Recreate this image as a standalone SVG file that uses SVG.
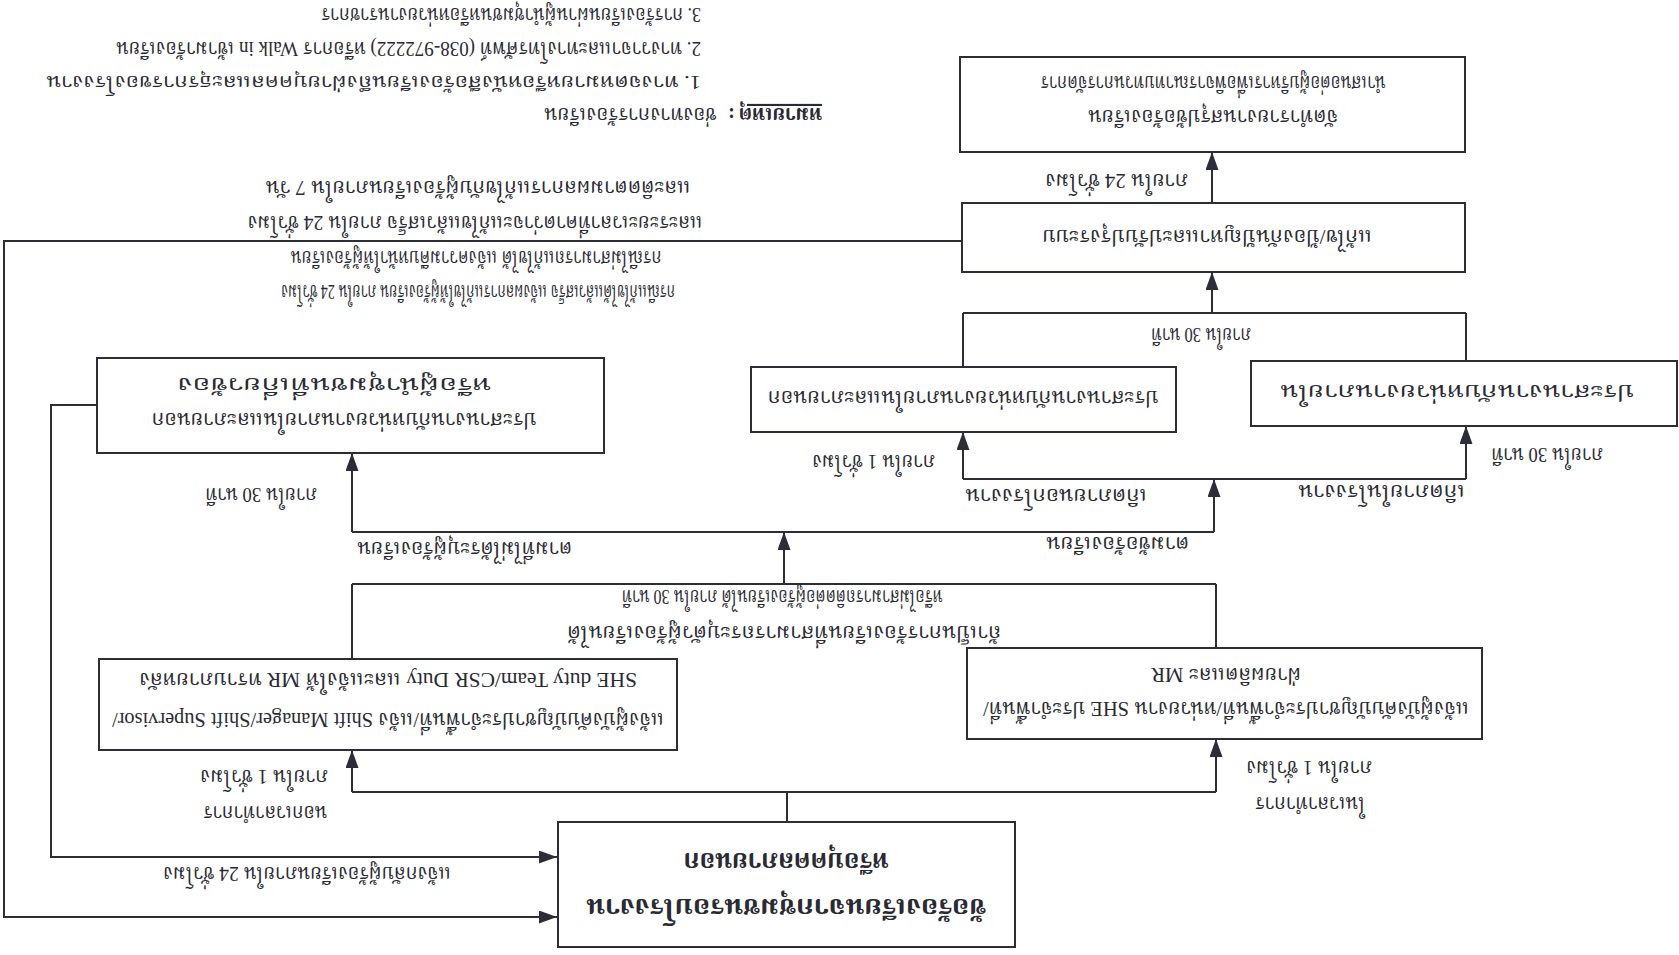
<svg xmlns="http://www.w3.org/2000/svg" width="1679" height="955" viewBox="0 0 1679 955">
<style>
.bx{fill:#fff;stroke:#2d2d38;stroke-width:2}
.ln{fill:none;stroke:#2d2d38;stroke-width:2}
.ar{fill:none;stroke:#2d2d38;stroke-width:2;marker-end:url(#ah)}
text{font-family:'Liberation Serif','Noto Serif Thai','Noto Sans Thai Looped','Noto Sans Thai','Noto Sans',serif;font-size:21px;fill:#2a2a33}
.c{text-anchor:middle}
.e{text-anchor:end}
.big{font-size:27px;font-weight:bold}
.b{font-weight:bold}
.sm{font-size:19px}
</style>
<defs>
<marker id="ah" viewBox="0 0 18 13" refX="18" refY="6.5" markerWidth="18" markerHeight="13" markerUnits="userSpaceOnUse" orient="auto"><path d="M0,0 L18,6.5 L0,13 z" fill="#2d2d38"/></marker>
</defs>
<rect width="1679" height="955" fill="#fff"/>
<g transform="rotate(180 839.5 477.5)">
<g id="connectors">
<path class="ln" d="M892,133 V163 M463,163 H1327"/>
<path class="ar" d="M463,163 V216"/>
<path class="ar" d="M1327,163 V205"/>
<path class="ln" d="M1327,296 V371 M463,307 V371 M463,371 H1327"/>
<path class="ar" d="M895,371 V423"/>
<path class="ln" d="M465,423 H1327"/>
<path class="ar" d="M1327,423 V502"/>
<path class="ar" d="M465,423 V476"/>
<path class="ln" d="M213,476 H716"/>
<path class="ar" d="M716,476 V523"/>
<path class="ar" d="M213,476 V529"/>
<path class="ln" d="M716,588 V642 M213,594 V642 M213,642 H716"/>
<path class="ar" d="M467,642 V683"/>
<path class="ar" d="M467,752 V803"/>
<path class="ar" d="M717,714 H1675 V38 H1122"/>
<path class="ar" d="M1582,550 H1628 V98 H1122"/>
</g>
<g id="labels">
<text class="c" x="369" y="158" textLength="110" lengthAdjust="spacingAndGlyphs">ในเวลาทำการ</text>
<text class="c" x="370" y="194" textLength="126" lengthAdjust="spacingAndGlyphs">ภายใน 1 ชั่วโมง</text>
<text class="c" x="1414" y="149" textLength="124" lengthAdjust="spacingAndGlyphs">นอกเวลาทำการ</text>
<text class="c" x="1415" y="185" textLength="128" lengthAdjust="spacingAndGlyphs">ภายใน 1 ชั่วโมง</text>
<text class="c" x="895" y="329" textLength="434" lengthAdjust="spacingAndGlyphs">ถ้าเป็นการร้องเรียนที่สามารถระบุตัวผู้ร้องเรียนได้</text>
<text class="c" x="897" y="365" textLength="321" lengthAdjust="spacingAndGlyphs">หรือไม่สามารถติดต่อผู้ร้องเรียนได้ ภายใน 30 นาที</text>
<text x="490" y="418" textLength="143" lengthAdjust="spacingAndGlyphs">ตามข้อร้องเรียน</text>
<text class="e" x="1322" y="413" textLength="215" lengthAdjust="spacingAndGlyphs">ตามที่ไม่ได้ระบุผู้ร้องเรียน</text>
<text x="1362" y="467" textLength="112" lengthAdjust="spacingAndGlyphs">ภายใน 30 นาที</text>
<text class="e" x="714" y="466" textLength="182" lengthAdjust="spacingAndGlyphs">เกิดภายนอกโรงงาน</text>
<text x="214" y="470" textLength="167" lengthAdjust="spacingAndGlyphs">เกิดภายในโรงงาน</text>
<text x="744" y="500" textLength="123" lengthAdjust="spacingAndGlyphs">ภายใน 1 ชั่วโมง</text>
<text class="e" x="188" y="507" textLength="112" lengthAdjust="spacingAndGlyphs">ภายใน 30 นาที</text>
<text class="c" x="478" y="627" textLength="100" lengthAdjust="spacingAndGlyphs">ภายใน 30 นาที</text>
<text x="491" y="781" textLength="143" lengthAdjust="spacingAndGlyphs">ภายใน 24 ชั่วโมง</text>
<text class="c" x="1201" y="670" textLength="394" lengthAdjust="spacingAndGlyphs">กรณีแก้ไขได้แล้วเสร็จ แจ้งผลการแก้ไขให้ผู้ร้องเรียน ภายใน 24 ชั่วโมง</text>
<text class="c" x="1203" y="704" textLength="371" lengthAdjust="spacingAndGlyphs">กรณีไม่สามารถแก้ไขได้ แจ้งความคืบหน้าให้ผู้ร้องเรียน</text>
<text class="c" x="1204" y="739" textLength="455" lengthAdjust="spacingAndGlyphs">และระยะเวลาที่คาดว่าจะแก้ไขแล้วเสร็จ ภายใน 24 ชั่วโมง</text>
<text class="c" x="1201" y="774" textLength="425" lengthAdjust="spacingAndGlyphs">และติดตามผลการแก้ไขกับผู้ร้องเรียนภายใน 7 วัน</text>
<text class="c" x="1372" y="88" textLength="288" lengthAdjust="spacingAndGlyphs">แจ้งกลับผู้ร้องเรียนภายใน 24 ชั่วโมง</text>
</g>
<g id="notes">
<text x="857" y="847" textLength="278" lengthAdjust="spacingAndGlyphs"><tspan font-weight="bold" text-decoration="underline">หมายเหตุ</tspan><tspan font-weight="bold" dx="4">:</tspan><tspan dx="12">ช่องทางการร้องเรียน</tspan></text>
<text class="sm" x="978" y="879" textLength="655" lengthAdjust="spacingAndGlyphs">1. ทางจดหมายหรือหนังสือร้องเรียนถึงฝ่ายบุคคลและธุรการของโรงงาน</text>
<text x="978" y="913" textLength="585" lengthAdjust="spacingAndGlyphs">2. ทางวาจาและทางโทรศัพท์ (038-972222) หรือการ Walk in เข้ามาร้องเรียน</text>
<text x="978" y="947" textLength="380" lengthAdjust="spacingAndGlyphs">3. การร้องเรียนผ่านผู้นำชุมชนหรือหน่วยงานราชการ</text>
</g>
<g id="n-start">
<rect class="bx" x="664" y="8" width="457" height="125"/>
<text class="c big" x="893" y="56" textLength="400" lengthAdjust="spacingAndGlyphs">ข้อร้องเรียนจากชุมชนรอบโรงงาน</text>
<text class="c big" x="893" y="102" textLength="205" lengthAdjust="spacingAndGlyphs">หรือบุคคลภายนอก</text>
</g>
<g id="n-inhours">
<rect class="bx" x="197" y="216" width="515" height="91"/>
<text class="c" x="453" y="253" textLength="486" lengthAdjust="spacingAndGlyphs">แจ้งผู้บังคับบัญชาประจำพื้นที่/หน่วยงาน SHE ประจำพื้นที่/</text>
<text class="c" x="453" y="287" textLength="150" lengthAdjust="spacingAndGlyphs">ฝ่ายผลิตและ MR</text>
</g>
<g id="n-outhours">
<rect class="bx" x="1002" y="205" width="578" height="91"/>
<text class="c" x="1291" y="242" textLength="552" lengthAdjust="spacingAndGlyphs">แจ้งผู้บังคับบัญชาประจำพื้นที่/แจ้ง Shift Manager/Shift Supervisor/</text>
<text class="c" x="1291" y="282" textLength="498" lengthAdjust="spacingAndGlyphs">SHE duty Team/CSR Duty และแจ้งให้ MR ทราบภายหลัง</text>
</g>
<g id="n-coord-ext">
<rect class="bx" x="1075" y="502" width="507" height="95"/>
<text class="c" x="1335" y="542" textLength="385" lengthAdjust="spacingAndGlyphs">ประสานงานกับหน่วยงานภายในและภายนอก</text>
<text class="c" x="1345" y="577" textLength="314" lengthAdjust="spacingAndGlyphs">หรือผู้นำชุมชนที่เกี่ยวข้อง</text>
</g>
<g id="n-coord-c">
<rect class="bx" x="503" y="523" width="425" height="65"/>
<text class="c" x="716" y="564" textLength="391" lengthAdjust="spacingAndGlyphs">ประสานงานกับหน่วยงานภายในและภายนอก</text>
</g>
<g id="n-coord-d">
<rect class="bx" x="2" y="529" width="426" height="65"/>
<text class="c" x="222" y="570" textLength="354" lengthAdjust="spacingAndGlyphs">ประสานงานกับหน่วยงานภายใน</text>
</g>
<g id="n-fix">
<rect class="bx" x="214" y="683" width="503" height="69"/>
<text class="c" x="472" y="725" textLength="330" lengthAdjust="spacingAndGlyphs">แก้ไข/ป้องกันปัญหาและปรับปรุงระบบ</text>
</g>
<g id="n-report">
<rect class="bx" x="214" y="803" width="505" height="95"/>
<text class="c" x="466" y="845" textLength="250" lengthAdjust="spacingAndGlyphs">จัดทำรายงานสรุปข้อร้องเรียน</text>
<text class="c" x="466" y="879" textLength="345" lengthAdjust="spacingAndGlyphs">นำเสนอต่อผู้บริหารเพื่อพิจารณาทบทวนการจัดการ</text>
</g>
</g>
</svg>
